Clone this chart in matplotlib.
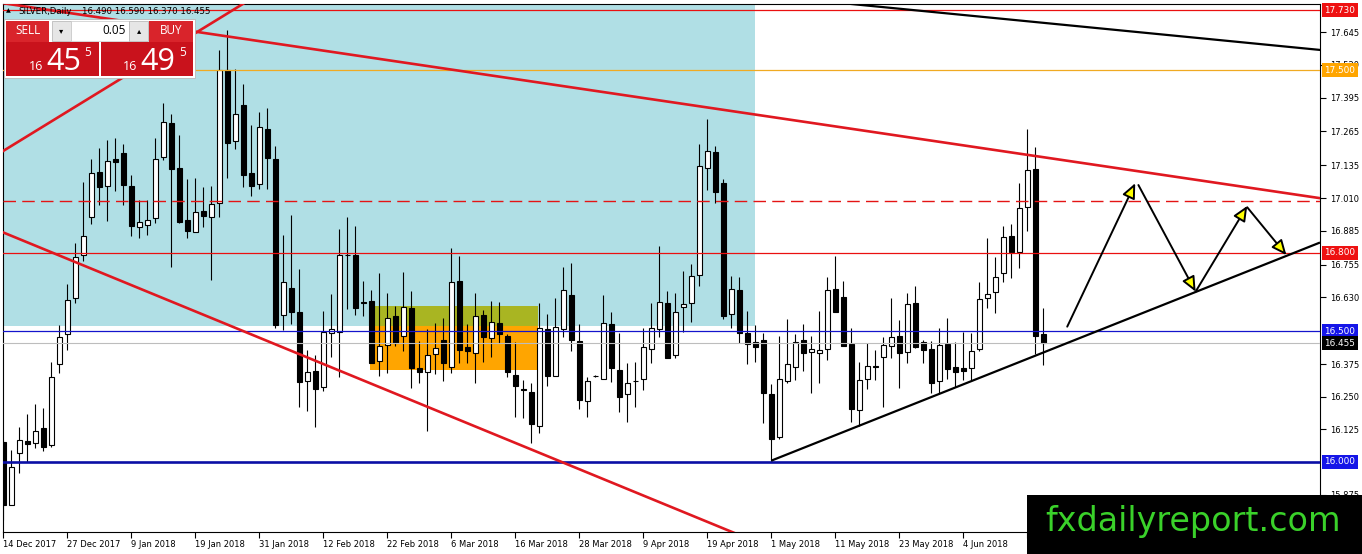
import matplotlib
matplotlib.use('Agg')
import matplotlib.pyplot as plt
from matplotlib.patches import Rectangle
from matplotlib.transforms import blended_transform_factory

W, H = 1362, 554

# SILVER daily candles
opens = [16.078, 15.835, 16.033, 16.080, 16.072, 16.129, 16.065, 16.376, 16.490, 16.626,
         16.792, 16.936, 17.109, 17.056, 17.158, 17.184, 17.056, 16.900, 16.908, 16.933,
         17.169, 17.296, 17.124, 16.926, 16.879, 16.961, 16.939, 16.990, 17.500, 17.230,
         17.366, 17.105, 17.064, 17.274, 17.158, 16.564, 16.667, 16.574, 16.311, 16.348,
         16.286, 16.493, 16.499, 16.792, 16.792, 16.612, 16.616, 16.387, 16.448, 16.559,
         16.482, 16.588, 16.359, 16.343, 16.412, 16.467, 16.365, 16.693, 16.439, 16.416,
         16.563, 16.476, 16.531, 16.482, 16.333, 16.278, 16.267, 16.138, 16.508, 16.329,
         16.508, 16.639, 16.463, 16.233, 16.330, 16.317, 16.528, 16.352, 16.260, 16.311,
         16.317, 16.431, 16.509, 16.607, 16.409, 16.594, 16.607, 16.716, 17.124, 17.185,
         17.066, 16.565, 16.658, 16.495, 16.458, 16.467, 16.260, 16.095, 16.311, 16.365,
         16.467, 16.422, 16.416, 16.431, 16.661, 16.633, 16.452, 16.199, 16.316, 16.366,
         16.401, 16.444, 16.482, 16.422, 16.607, 16.458, 16.431, 16.311, 16.452, 16.362,
         16.359, 16.359, 16.431, 16.626, 16.652, 16.722, 16.866, 16.805, 16.975, 17.120,
         16.490]
highs = [16.085, 16.046, 16.133, 16.184, 16.222, 16.206, 16.384, 16.524, 16.681, 16.839,
         17.073, 17.158, 17.200, 17.232, 17.239, 17.217, 17.098, 17.003, 17.003, 17.242,
         17.375, 17.331, 17.251, 17.082, 17.086, 17.054, 17.057, 17.577, 17.653, 17.503,
         17.447, 17.290, 17.341, 17.354, 17.209, 16.869, 16.945, 16.739, 16.429, 16.410,
         16.578, 16.643, 16.892, 16.936, 16.904, 16.693, 16.658, 16.722, 16.646, 16.597,
         16.726, 16.654, 16.463, 16.508, 16.533, 16.552, 16.818, 16.788, 16.528, 16.646,
         16.582, 16.616, 16.611, 16.490, 16.460, 16.314, 16.301, 16.607, 16.566, 16.629,
         16.747, 16.763, 16.528, 16.324, 16.334, 16.639, 16.573, 16.495, 16.380, 16.384,
         16.512, 16.607, 16.827, 16.654, 16.646, 16.731, 16.758, 17.217, 17.313, 17.209,
         17.082, 16.712, 16.709, 16.578, 16.524, 16.495, 16.299, 16.482, 16.546, 16.490,
         16.528, 16.482, 16.578, 16.707, 16.788, 16.693, 16.512, 16.384, 16.454, 16.429,
         16.480, 16.626, 16.543, 16.646, 16.674, 16.467, 16.464, 16.512, 16.550, 16.460,
         16.499, 16.493, 16.690, 16.856, 16.786, 16.903, 16.911, 17.067, 17.274, 17.204,
         16.590]
lows = [15.778, 15.835, 15.957, 16.001, 16.052, 16.043, 16.059, 16.342, 16.429, 16.610,
        16.770, 16.911, 16.984, 16.924, 17.038, 16.984, 16.865, 16.857, 16.869, 16.914,
        17.155, 16.745, 16.915, 16.857, 16.879, 16.900, 16.697, 16.939, 17.086, 17.197,
        17.054, 17.019, 17.044, 17.044, 16.512, 16.505, 16.528, 16.212, 16.196, 16.135,
        16.273, 16.401, 16.324, 16.584, 16.563, 16.559, 16.380, 16.329, 16.342, 16.444,
        16.425, 16.284, 16.301, 16.120, 16.335, 16.311, 16.342, 16.380, 16.378, 16.301,
        16.384, 16.401, 16.457, 16.324, 16.171, 16.167, 16.072, 16.112, 16.292, 16.329,
        16.477, 16.426, 16.202, 16.171, 16.326, 16.317, 16.307, 16.192, 16.152, 16.212,
        16.276, 16.380, 16.480, 16.397, 16.399, 16.499, 16.537, 16.672, 17.041, 16.990,
        16.546, 16.512, 16.457, 16.374, 16.384, 16.148, 16.005, 16.087, 16.303, 16.314,
        16.349, 16.265, 16.301, 16.390, 16.573, 16.445, 16.152, 16.138, 16.278, 16.314,
        16.212, 16.397, 16.284, 16.378, 16.437, 16.378, 16.263, 16.263, 16.317, 16.288,
        16.314, 16.314, 16.426, 16.591, 16.571, 16.690, 16.703, 16.744, 16.885, 16.412,
        16.370]
closes = [15.835, 15.982, 16.084, 16.068, 16.120, 16.056, 16.326, 16.480, 16.620, 16.786,
          16.865, 17.105, 17.051, 17.153, 17.149, 17.059, 16.904, 16.917, 16.926, 17.158,
          17.300, 17.120, 16.920, 16.885, 16.956, 16.943, 16.987, 17.500, 17.222, 17.331,
          17.098, 17.057, 17.281, 17.165, 16.523, 16.688, 16.574, 16.307, 16.346, 16.281,
          16.499, 16.508, 16.792, 16.792, 16.588, 16.608, 16.380, 16.444, 16.550, 16.457,
          16.592, 16.361, 16.346, 16.409, 16.437, 16.380, 16.688, 16.429, 16.425, 16.559,
          16.480, 16.537, 16.489, 16.346, 16.292, 16.274, 16.144, 16.512, 16.330, 16.516,
          16.658, 16.466, 16.237, 16.310, 16.330, 16.531, 16.359, 16.250, 16.301, 16.309,
          16.439, 16.512, 16.611, 16.399, 16.575, 16.603, 16.712, 17.132, 17.190, 17.034,
          16.560, 16.661, 16.493, 16.450, 16.439, 16.263, 16.087, 16.316, 16.374, 16.460,
          16.416, 16.431, 16.427, 16.658, 16.573, 16.445, 16.202, 16.314, 16.367, 16.364,
          16.448, 16.477, 16.416, 16.603, 16.441, 16.429, 16.301, 16.448, 16.356, 16.346,
          16.349, 16.426, 16.623, 16.643, 16.709, 16.860, 16.803, 16.971, 17.117, 16.482,
          16.455]

date_labels = ['14 Dec 2017', '27 Dec 2017', '9 Jan 2018', '19 Jan 2018', '31 Jan 2018',
               '12 Feb 2018', '22 Feb 2018', '6 Mar 2018', '16 Mar 2018', '28 Mar 2018',
               '9 Apr 2018', '19 Apr 2018', '1 May 2018', '11 May 2018', '23 May 2018',
               '4 Jun 2018', '14 Jun 2018']
label_step = 8

# scale labels (the ones under the price tags are left out)
price_ticks = [17.645, 17.520, 17.395, 17.265, 17.135, 17.010, 16.885, 16.755,
               16.630, 16.375, 16.250, 16.125, 15.875]

# horizontal levels
levels = [17.73, 17.50, 17.00, 16.80, 16.50, 16.455, 16.00]
level_colors = ['#ea1010', '#f0aa22', '#e41414', '#ea1010', '#1414cc', '#bdbdbd', '#0a0fa5']
level_widths = [0.9, 0.9, 1.0, 0.9, 0.9, 0.8, 1.9]
level_styles = ['-', '-', (0, (9, 4.5)), '-', '-', '-', '-']

price_tags = [17.730, 17.500, 16.800, 16.500, 16.455, 16.000]
tag_colors = ['#ee1111', '#ffa500', '#ee1111', '#1515e8', '#000000', '#1515e8']

# trend lines as (bar index, price) pairs
red_lines = [[(-2, 17.765), (165, 17.008)],
             [(-1, 17.172), (31, 17.773)],
             [(-1, 16.891), (100, 15.620)]]
black_lines = [[(96, 16.005), (164.6, 16.840)],
               [(100, 17.771), (165, 17.576)]]

# zones: x0, x1, y0, y1
zone_blue = (-1, 94.0, 16.52, 18.0)
zone_olive = (45.9, 66.9, 16.52, 16.597)
zone_orange = (45.9, 66.9, 16.352, 16.52)

# projected path
arrow_path = [((133.0, 16.518), (141.5, 17.067)),
              ((141.9, 17.060), (149.05, 16.652)),
              ((149.05, 16.652), (155.5, 16.980)),
              ((155.5, 16.975), (160.4, 16.792))]

fig = plt.figure(figsize=(W / 100, H / 100), dpi=100)
fig.patch.set_facecolor('white')
ax = fig.add_axes([3 / W, 1 - 532 / H, 1317 / W, 528 / H])
ax.set_xlim(-0.04, 164.6)
ax.set_ylim(15.732, 17.753)

for (x0, x1, y0, y1), col, z in [(zone_blue, '#b0dfe5', 1), (zone_olive, '#a9b522', 1.1),
                                 (zone_orange, '#ffa500', 1.1)]:
    ax.add_patch(Rectangle((x0, y0), x1 - x0, y1 - y0, fc=col, ec='none', zorder=z))

n = len(opens)
idx = list(range(n))
ax.vlines(idx, lows, highs, color='black', lw=0.8, zorder=3)
bottoms = [min(o, c) for o, c in zip(opens, closes)]
heights = [abs(c - o) for o, c in zip(opens, closes)]
fills = ['white' if c >= o else 'black' for o, c in zip(opens, closes)]
ax.bar(idx, heights, bottom=bottoms, width=0.6, color=fills, edgecolor='black',
       linewidth=0.8, zorder=3.5)

for lev, col, lw, ls in zip(levels, level_colors, level_widths, level_styles):
    ax.axhline(lev, color=col, lw=lw, ls=ls, zorder=4)

for pts in red_lines:
    ax.plot([p[0] for p in pts], [p[1] for p in pts], color='#e01820', lw=1.9, zorder=4.5,
            solid_capstyle='butt')
for pts in black_lines:
    ax.plot([p[0] for p in pts], [p[1] for p in pts], color='black', lw=1.6, zorder=4.5,
            solid_capstyle='butt')

for start, end in arrow_path:
    ax.annotate('', xy=end, xytext=start, zorder=6,
                arrowprops=dict(arrowstyle='-|>,head_length=0.9,head_width=0.4',
                                fc='#ffff00', ec='black', lw=1.4, shrinkA=0, shrinkB=0))

# axes, MT4 style
ax.set_xticks(range(0, n, label_step))
ax.set_xticklabels(date_labels, ha='left', fontsize=6)
ax.tick_params(axis='x', length=4, pad=1.5, width=0.8)
ax.yaxis.tick_right()
ax.set_yticks(price_ticks)
ax.set_yticklabels(['%.3f' % t for t in price_ticks], fontsize=6)
ax.tick_params(axis='y', length=4, pad=3, width=0.8)
for sp in ax.spines.values():
    sp.set_color('black')
    sp.set_linewidth(0.8)

trans = blended_transform_factory(ax.transAxes, ax.transData)
for tag, col in zip(price_tags, tag_colors):
    ax.text(1.0032, tag, '%.3f' % tag, transform=trans, ha='left', va='center', fontsize=6.4,
            color='white', zorder=10, clip_on=False,
            bbox=dict(boxstyle='square,pad=0.28', fc=col, ec='none'))


def fig_rect(x0, y0, x1, y1, color, ec='none', lw=0):
    fig.add_artist(Rectangle((x0 / W, 1 - y1 / H), (x1 - x0) / W, (y1 - y0) / H,
                             transform=fig.transFigure, fc=color, ec=ec, lw=lw))


def fig_text(x, y, s, **kw):
    fig.text(x / W, 1 - y / H, s, **kw)


# title
fig_text(8, 11, '\u25b2', fontsize=4.5, ha='center', va='center')
fig_text(18, 11, 'SILVER,Daily', fontsize=6.2, va='center')
fig_text(82, 11, '%.3f %.3f %.3f %.3f' % (opens[-1], highs[-1], lows[-1], closes[-1]),
         fontsize=6.2, va='center')

# one click trading panel
fig_rect(3.5, 19, 194.5, 77.5, 'white', ec='#b8b8b8', lw=0.6)
fig_rect(6, 20.7, 49.3, 41.5, '#d9242b')
fig_rect(149.3, 20.7, 192.7, 41.5, '#d9242b')
fig_rect(51.7, 20.7, 70.7, 40.7, '#e6e6e6', ec='#b0b0b0', lw=0.5)
fig_rect(71.3, 20.7, 128.7, 40.7, 'white', ec='#c8c8c8', lw=0.5)
fig_rect(129.3, 20.7, 148.3, 40.7, '#e6e6e6', ec='#b0b0b0', lw=0.5)
fig_rect(6, 42.2, 99.3, 76, '#c9121c')
fig_rect(101, 42.2, 192.7, 76, '#c9121c')
panel_font = 'Open Sans'
fig_text(27.6, 31, 'SELL', color='white', fontsize=8.5, ha='center', va='center', family=panel_font)
fig_text(171, 31, 'BUY', color='white', fontsize=8.5, ha='center', va='center', family=panel_font)
fig_text(61.2, 31, '\u25be', color='black', fontsize=6, ha='center', va='center')
fig_text(138.8, 31, '\u25b4', color='black', fontsize=6, ha='center', va='center')
fig_text(126, 31, '0.05', color='black', fontsize=8.5, ha='right', va='center', family=panel_font)
fig_text(43.5, 70, '16', color='white', fontsize=9, ha='right', va='baseline', family=panel_font)
fig_text(46, 70, '45', color='white', fontsize=22, ha='left', va='baseline', family=panel_font)
fig_text(84, 46, '5', color='white', fontsize=8.5, ha='left', va='top', family=panel_font)
fig_text(137.5, 70, '16', color='white', fontsize=9, ha='right', va='baseline', family=panel_font)
fig_text(140, 70, '49', color='white', fontsize=22, ha='left', va='baseline', family=panel_font)
fig_text(179, 46, '5', color='white', fontsize=8.5, ha='left', va='top', family=panel_font)

# watermark
fig_rect(1027, 495, 1362, 554, 'black')
fig_text(1193, 521, 'fxdailyreport.com', color='#3ad12a', fontsize=24, ha='center',
         va='center', family='DejaVu Sans')

fig.savefig('out.png', dpi=100, facecolor='white')
